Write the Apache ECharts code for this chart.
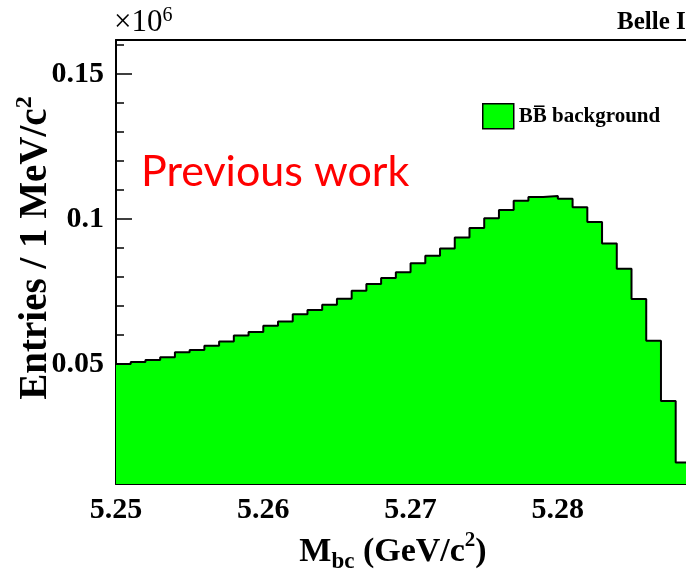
<!DOCTYPE html>
<html>
<head>
<meta charset="utf-8">
<script src="https://cdn.jsdelivr.net/npm/echarts@6/dist/echarts.min.js"></script>
<style>
  html, body { margin: 0; padding: 0; background: #ffffff; }
  #chart { width: 686px; height: 573px; }
</style>
</head>
<body>
<div id="chart"></div>
<script>
// 直方图数据 (单位 x10^6), 每个 bin 宽 1 MeV, 从 5.25 开始
const binStart = 5.25
const binWidth = 0.001
const bbValues = [
  0.0500, 0.0507, 0.0514, 0.0523, 0.0540, 0.0548, 0.0563, 0.0577, 0.0598, 0.0610,
  0.0632, 0.0646, 0.0671, 0.0686, 0.0704, 0.0725, 0.0752, 0.0776, 0.0796, 0.0816,
  0.0847, 0.0873, 0.0898, 0.0936, 0.0969, 0.1002, 0.1031, 0.1063, 0.1076, 0.1079,
  0.1070, 0.1040, 0.0989, 0.0915, 0.0828, 0.0724, 0.0580, 0.0372, 0.0160
]
const xMajorTicks = [5.25, 5.26, 5.27, 5.28]
const xMinorTicks = [5.252, 5.254, 5.256, 5.258, 5.262, 5.264, 5.266, 5.268,
  5.272, 5.274, 5.276, 5.278, 5.282, 5.284, 5.286, 5.288]
const yMajorTicks = [0.05, 0.1, 0.15]
const yMinorTicks = [0.01, 0.02, 0.03, 0.04, 0.06, 0.07, 0.08, 0.09,
  0.11, 0.12, 0.13, 0.14, 0.16]

const xMin = 5.25
const xMax = 5.2887
const yMin = 0.0086
const yMax = 0.1617

// 阶梯线的点: 每个 bin 左边沿 + 最后一个右边沿
const stepData = bbValues.map((v, i) => [binStart + i * binWidth, v])
stepData.push([binStart + bbValues.length * binWidth, bbValues[bbValues.length - 1]])

const serif = 'Liberation Serif'
const chart = echarts.init(document.getElementById('chart'))

const baseX = {
  type: 'value',
  min: xMin,
  max: xMax,
  splitLine: { show: false },
}
const baseY = {
  type: 'value',
  min: yMin,
  max: yMax,
  splitLine: { show: false },
}

chart.setOption({
  animation: false,
  backgroundColor: '#ffffff',
  grid: { left: 116, top: 40, right: 0, bottom: 89, containLabel: false, outerBoundsMode: 'none' },
  xAxis: [
    {
      ...baseX,
      position: 'bottom',
      axisLine: { lineStyle: { color: '#000', width: 2 } },
      axisTick: { inside: true, length: 15, customValues: xMajorTicks, lineStyle: { color: '#000', width: 1.5 } },
      axisLabel: {
        customValues: xMajorTicks,
        margin: 11,
        color: '#000',
        fontFamily: serif,
        fontWeight: 'bold',
        fontSize: 30,
        formatter: (v) => v.toFixed(2),
      },
      name: '{m|M}{sub|bc}{m| (GeV/c}{sup|2}{m|)}',
      nameLocation: 'middle',
      nameGap: 44,
      nameTextStyle: {
        padding: [0, 16, 0, 0],
        rich: {
          m: { fontFamily: serif, fontWeight: 'bold', fontSize: 34, color: '#000', lineHeight: 44 },
          sub: { fontFamily: serif, fontWeight: 'bold', fontSize: 23, color: '#000', lineHeight: 23, verticalAlign: 'bottom' },
          sup: { fontFamily: serif, fontWeight: 'bold', fontSize: 21, color: '#000', lineHeight: 21, verticalAlign: 'top' },
        },
      },
    },
    {
      ...baseX,
      position: 'bottom',
      axisLine: { show: false },
      axisTick: { inside: true, length: 7, customValues: xMinorTicks, lineStyle: { color: '#000', width: 1.5 } },
      axisLabel: { show: false },
    },
    {
      ...baseX,
      position: 'top',
      axisLine: { lineStyle: { color: '#000', width: 2 } },
      axisTick: { show: false },
      axisLabel: { show: false },
    },
  ],
  yAxis: [
    {
      ...baseY,
      position: 'left',
      axisLine: { show: true, lineStyle: { color: '#000', width: 2 } },
      axisTick: { show: true, inside: true, length: 16, customValues: yMajorTicks, lineStyle: { color: '#000', width: 1.5 } },
      axisLabel: {
        customValues: yMajorTicks,
        margin: 12,
        color: '#000',
        fontFamily: serif,
        fontWeight: 'bold',
        fontSize: 30,
        formatter: (v) => String(+v.toFixed(2)),
      },
    },
    {
      ...baseY,
      position: 'left',
      axisLine: { show: false },
      axisTick: { show: true, inside: true, length: 8, customValues: yMinorTicks, lineStyle: { color: '#000', width: 1.5 } },
      axisLabel: { show: false },
    },
  ],
  legend: {
    left: 482,
    top: 103,
    padding: 0,
    icon: 'rect',
    itemWidth: 31,
    itemHeight: 25,
    itemStyle: { color: '#00ff00', borderColor: '#000', borderWidth: 1.5 },
    textStyle: { fontFamily: serif, fontWeight: 'bold', fontSize: 21, color: '#000' },
    data: ['BB\u0305 background'],
  },
  graphic: [
    {
      // y 轴标题, 竖排
      type: 'text',
      x: 36,
      y: 248,
      rotation: Math.PI / 2,
      style: {
        text: '{m|Entries / 1 MeV/c}{sup|2}',
        align: 'center',
        verticalAlign: 'middle',
        rich: {
          m: { fontFamily: serif, fontWeight: 'bold', fontSize: 39, fill: '#000', lineHeight: 46 },
          sup: { fontFamily: serif, fontWeight: 'bold', fontSize: 24, fill: '#000', lineHeight: 24, verticalAlign: 'top' },
        },
      },
    },
    {
      type: 'text',
      left: 114,
      top: 6,
      style: {
        text: '{m|\u00d710}{sup|6}',
        rich: {
          m: { fontFamily: serif, fontSize: 31, fill: '#000', lineHeight: 34 },
          sup: { fontFamily: serif, fontSize: 20, fill: '#000', lineHeight: 20, verticalAlign: 'top' },
        },
      },
    },
    {
      type: 'text',
      left: 617,
      top: 10,
      style: { text: 'Belle II', fontFamily: serif, fontWeight: 'bold', fontSize: 25, fill: '#000' },
    },
    {
      type: 'text',
      left: 141,
      top: 151,
      style: { text: 'Previous work', fontFamily: 'Lato', fontSize: 43, fill: '#ff0000' },
    },
  ],
  series: [
    {
      name: 'BB\u0305 background',
      type: 'line',
      step: 'end',
      xAxisIndex: 0,
      yAxisIndex: 0,
      symbol: 'none',
      clip: true,
      lineStyle: { color: '#000', width: 2 },
      areaStyle: { color: '#00ff00', opacity: 1, origin: 'start' },
      data: stepData,
    },
  ],
})
</script>
</body>
</html>
